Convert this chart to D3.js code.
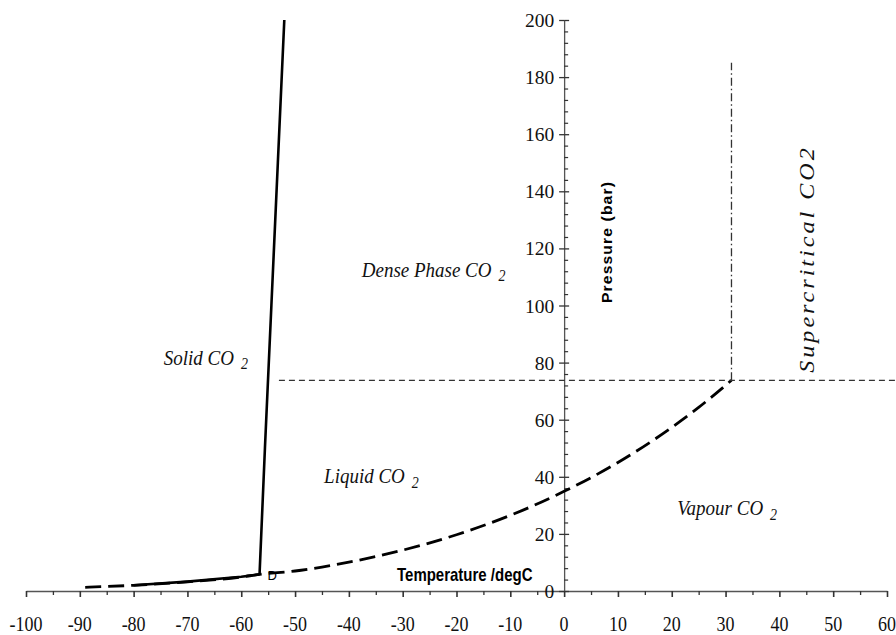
<!DOCTYPE html>
<html>
<head>
<meta charset="utf-8">
<script src="https://cdn.jsdelivr.net/npm/d3@7"></script>
<style>
  html, body { margin: 0; padding: 0; background: #fff; }
  svg { display: block; }
</style>
</head>
<body>
<svg id="chart" width="896" height="635"></svg>
<script>
// CO2 phase diagram: temperature (degC) vs pressure (bar)

// Vapour-pressure curve (dashed), from low temperature to the critical point
const vapourT = [-89, -80, -70, -60, -56.6, -50, -40, -30, -20, -10, 0, 10, 20, 25, 31.1];
const vapourP = [1.3, 2.0, 3.2, 4.9, 5.8, 7.0, 10.1, 14.3, 19.7, 26.5, 34.9, 45.0, 57.3, 64.3, 73.8];

// Sublimation curve (solid), ending at the triple point
const sublimT = [-80, -70, -60, -56.6];
const sublimP = [2.0, 3.3, 5.0, 5.8];

// Melting curve (solid), rising from the triple point
const meltT = [-56.6, -55.6, -54.4, -53.2, -52.0];
const meltP = [5.8, 50, 100, 150, 200];

// Critical point and the supercritical boundaries
const critT = 31.1;
const critP = 73.8;
const critLineStartT = -53;   // start of horizontal critical-pressure line
const critLineTopP = 185;     // top of vertical critical-temperature line

// Axis ticks
const xTicks = [-100, -90, -80, -70, -60, -50, -40, -30, -20, -10, 0, 10, 20, 30, 40, 50, 60];
const xMinorTicks = d3.range(-95, 60, 10);
const yTicks = [0, 20, 40, 60, 80, 100, 120, 140, 160, 180, 200];
const yMinorTicks = d3.range(0, 201, 4).filter(v => v % 20 !== 0);

// Region labels: name, and the (T, P) where each label starts
const regionNames = ["Solid CO", "Liquid CO", "Dense Phase CO", "Vapour CO"];
const regionT = [-74.4, -44.6, -37.6, 21.0];
const regionP = [79.2, 37.8, 110.0, 26.6];

const svg = d3.select("#chart");
const x = d3.scaleLinear().domain([-100, 60]).range([26, 887]);
const y = d3.scaleLinear().domain([0, 200]).range([591, 20]);

const axisColor = "#555";
const serif = "Liberation Serif";
const sans = "Liberation Sans";

// ---- X axis ----
const gx = svg.append("g").attr("transform", `translate(0,${y(0)})`);
gx.call(d3.axisBottom(x).tickValues(xTicks).tickSize(6).tickSizeOuter(0).tickFormat(""));
gx.select(".domain").attr("stroke", axisColor).attr("stroke-width", 1.3);
gx.selectAll(".tick line").attr("stroke", "#333").attr("stroke-width", 1.6);
const gxm = svg.append("g").attr("transform", `translate(0,${y(0)})`);
gxm.call(d3.axisBottom(x).tickValues(xMinorTicks).tickSize(4).tickFormat(""));
gxm.select(".domain").remove();
gxm.selectAll(".tick line").attr("stroke", "#333").attr("stroke-width", 1.3);

svg.append("g").selectAll("text").data(xTicks).join("text")
  .attr("transform", d => `translate(${x(d)},631) scale(1,1.12)`)
  .attr("text-anchor", "middle")
  .style("font-family", serif).style("font-size", "18px").attr("fill", "#111")
  .text(d => d);

// ---- Y axis (at T = 0) ----
const gy = svg.append("g").attr("transform", `translate(${x(0)},0)`);
gy.call(d3.axisLeft(y).tickValues(yTicks).tickSize(5).tickSizeOuter(0).tickFormat(""));
gy.select(".domain").attr("stroke", axisColor).attr("stroke-width", 1.3);
gy.selectAll(".tick line").attr("stroke", "#333").attr("stroke-width", 1.3);
const gyr = svg.append("g").attr("transform", `translate(${x(0)},0)`);
gyr.call(d3.axisRight(y).tickValues(yTicks).tickSize(5).tickFormat(""));
gyr.select(".domain").remove();
gyr.selectAll(".tick line").attr("stroke", "#333").attr("stroke-width", 1.3);
const gym = svg.append("g").attr("transform", `translate(${x(0)},0)`);
gym.call(d3.axisRight(y).tickValues(yMinorTicks).tickSize(4).tickFormat(""));
gym.select(".domain").remove();
gym.selectAll(".tick line").attr("stroke", "#333").attr("stroke-width", 1.2);

svg.append("g").selectAll("text").data(yTicks).join("text")
  .attr("x", x(0) - 10).attr("y", d => y(d) + 7)
  .attr("text-anchor", "end")
  .style("font-family", serif).style("font-size", "19.5px").attr("fill", "#111")
  .text(d => d);

// ---- Axis titles ----
svg.append("text")
  .attr("transform", "translate(397,581) scale(1,1.22)")
  .style("font-family", sans).style("font-weight", "bold").style("font-size", "15px").attr("fill", "#000")
  .text("Temperature /degC");

svg.append("text")
  .attr("transform", "translate(612,242) scale(1,1.12) rotate(-90)")
  .attr("text-anchor", "middle")
  .style("font-family", sans).style("font-weight", "bold").style("font-size", "14px")
  .attr("letter-spacing", 1).attr("fill", "#000")
  .text("Pressure (bar)");

// ---- Phase boundary curves ----
const line = d3.line().x(d => x(d[0])).y(d => y(d[1]));

svg.append("path")
  .datum(d3.zip(sublimT, sublimP))
  .attr("d", line).attr("fill", "none")
  .attr("stroke", "#000").attr("stroke-width", 2.6).attr("stroke-linejoin", "round");

svg.append("path")
  .datum(d3.zip(meltT, meltP))
  .attr("d", line).attr("fill", "none")
  .attr("stroke", "#000").attr("stroke-width", 2.6).attr("stroke-linejoin", "round");

svg.append("path")
  .datum(d3.zip(vapourT, vapourP))
  .attr("d", d3.line().x(d => x(d[0])).y(d => y(d[1])).curve(d3.curveMonotoneX))
  .attr("fill", "none")
  .attr("stroke", "#000").attr("stroke-width", 2.8)
  .attr("stroke-dasharray", "16,7");

// Critical pressure (horizontal) and critical temperature (vertical)
svg.append("line")
  .attr("x1", x(critLineStartT)).attr("x2", 896)
  .attr("y1", y(critP)).attr("y2", y(critP))
  .attr("stroke", "#333").attr("stroke-width", 1.3)
  .attr("stroke-dasharray", "6,4");

svg.append("line")
  .attr("x1", x(critT)).attr("x2", x(critT))
  .attr("y1", y(critP)).attr("y2", y(critLineTopP))
  .attr("stroke", "#333").attr("stroke-width", 1.3)
  .attr("stroke-dasharray", "8,3,1.5,3");

// Triple point marker
svg.append("text")
  .attr("x", x(-56.6) + 8).attr("y", y(sublimP[3]) + 6)
  .style("font-family", sans).style("font-size", "13px").attr("fill", "#000")
  .text("D");

// ---- Region labels ----
regionNames.forEach((name, i) => {
  const t = svg.append("text")
    .attr("transform", `translate(${x(regionT[i])},${y(regionP[i])}) scale(1,1.12)`)
    .style("font-family", serif).style("font-style", "italic")
    .style("font-size", "19px").attr("fill", "#111");
  t.append("tspan").text(name);
  t.append("tspan").style("font-size", "14px").attr("dy", 4).text("\u00a0 2");
});

svg.append("text")
  .attr("transform", `translate(814,259) scale(1,1.15) rotate(-90)`)
  .attr("text-anchor", "middle")
  .style("font-family", serif).style("font-style", "italic")
  .style("font-size", "21px").attr("letter-spacing", 2.6).attr("fill", "#111")
  .text("Supercritical CO2");
</script>
</body>
</html>
